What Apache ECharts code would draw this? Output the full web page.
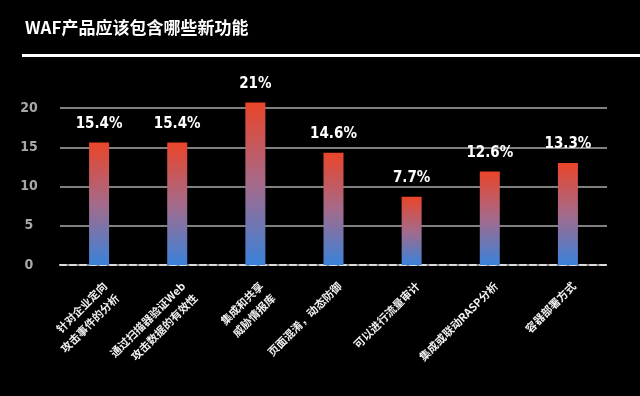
<!DOCTYPE html>
<html>
<head>
<meta charset="utf-8">
<script src="https://cdn.jsdelivr.net/npm/echarts@6/dist/echarts.min.js"></script>
<style>
html,body{margin:0;padding:0;background:#000;}
#c{width:640px;height:396px;}
</style>
</head>
<body>
<div id="c"></div>
<script>
var titleText = 'WAF产品应该包含哪些新功能';
var categories = [
  '针对企业定向\n攻击事件的分析',
  '通过扫描器验证Web\n攻击数据的有效性',
  '集成和共享\n威胁情报库',
  '页面混淆，动态防御',
  '可以进行流量审计',
  '集成或联动RASP分析',
  '容器部署方式'
];
var barValues = [15.6, 15.6, 20.7, 14.3, 8.7, 11.9, 13.0];
var valueLabels = ['15.4%', '15.4%', '21%', '14.6%', '7.7%', '12.6%', '13.3%'];
var yTicks = [0, 5, 10, 15, 20];

var chart = echarts.init(document.getElementById('c'), null, {renderer: 'canvas'});
var numFont = '"DejaVu Sans Condensed", "DejaVu Sans", sans-serif';
var cjkFont = '"Noto Sans CJK SC", sans-serif';

chart.setOption({
  backgroundColor: '#000',
  animation: false,
  title: {
    text: titleText,
    left: 20,
    top: 14,
    textStyle: {color: '#fff', fontSize: 17, fontWeight: 'bold', fontFamily: cjkFont}
  },
  graphic: [{
    type: 'rect',
    shape: {x: 22, y: 54, width: 618, height: 3},
    style: {fill: '#fff'}
  }],
  grid: {left: 60, right: 33, top: 108, bottom: 131},
  xAxis: {
    type: 'category',
    data: categories,
    axisTick: {show: false},
    axisLine: {show: true, lineStyle: {color: '#dcdcdc', width: 2, type: [6, 4]}},
    axisLabel: {
      interval: 0,
      rotate: 45,
      verticalAlign: 'top',
      margin: 13,
      color: '#f0f0f0',
      fontSize: 11,
      fontWeight: 'bold',
      lineHeight: 17,
      fontFamily: cjkFont
    }
  },
  yAxis: {
    type: 'value',
    min: yTicks[0],
    max: yTicks[yTicks.length - 1],
    interval: 5,
    axisLine: {show: false},
    axisTick: {show: false},
    splitLine: {show: true, lineStyle: {color: '#808080', width: 2}},
    axisLabel: {
      color: '#a8a8a8',
      fontSize: 14,
      fontWeight: 'bold',
      fontFamily: numFont,
      align: 'center',
      margin: 31
    }
  },
  series: [{
    type: 'bar',
    data: barValues,
    barWidth: 20,
    clip: false,
    itemStyle: {
      color: new echarts.graphic.LinearGradient(0, 0, 0, 1, [
        {offset: 0, color: '#ea4529'},
        {offset: 0.5, color: '#a56a8a'},
        {offset: 1, color: '#3a82da'}
      ])
    },
    label: {
      show: true,
      position: 'top',
      distance: 11,
      color: '#fff',
      fontSize: 15,
      fontWeight: 'bold',
      fontFamily: numFont,
      formatter: function (p) { return valueLabels[p.dataIndex]; }
    }
  }]
});
</script>
</body>
</html>
